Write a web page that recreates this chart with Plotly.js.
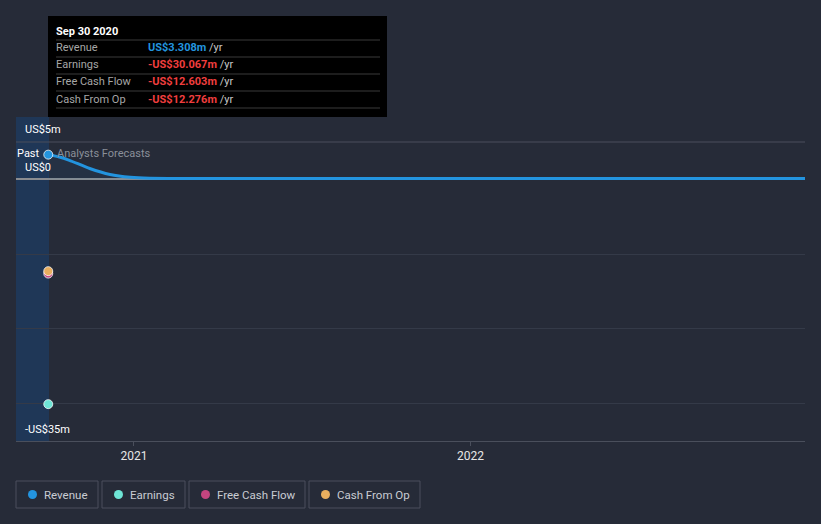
<!DOCTYPE html>
<html><head><meta charset="utf-8">
<script src="https://cdn.plot.ly/plotly-3.0.1.min.js"></script>
<style>html,body{margin:0;padding:0;background:#262b38;}#chart{width:821px;height:524px;}</style>
</head><body><div id="chart"></div>
<script>
// ---- data ----
const pastDate = '2020-09-30';
const revenueDates = ['2020-09-30','2020-10-12','2020-10-23','2020-11-14','2020-12-06','2020-12-28','2021-01-18','2021-03-01','2021-12-31','2022-12-31'];
const revenueValues = [3.308, 3.0, 2.55, 1.45, 0.65, 0.27, 0.14, 0.12, 0.12, 0.12];
const earningsValue = [-30.067];
const fcfValue = [-12.603];
const cfoValue = [-12.276];
const seriesNames = ['Revenue','Earnings','Free Cash Flow','Cash From Op'];
const seriesColors = ['#2394df','#6ee5d6','#c4457f','#e8ae5f'];
const tooltipValues = ['US$3.308m','-US$30.067m','-US$12.603m','-US$12.276m'];
const yTickLabels = ['US$5m','US$0','-US$35m'];

// ---- geometry helpers (pixel -> paper) ----
const W = 821, H = 524, L = 16, R = 805, T = 142, B = 441;
const px = x => (x - L) / (R - L);
const py = y => (B - y) / (B - T);

const font = 'Roboto, "Open Sans", sans-serif';
const mk = (c) => ({size: 9, color: c, line: {color: 'rgba(255,255,255,0.75)', width: 1}});

const traces = [
  {x: revenueDates, y: revenueValues, type: 'scatter', mode: 'lines',
   line: {color: seriesColors[0], width: 3, shape: 'spline', smoothing: 0.6},
   fill: 'tozeroy', fillcolor: 'rgba(35,148,223,0.07)', hoverinfo: 'skip'},
  {x: [pastDate], y: [revenueValues[0]], type: 'scatter', mode: 'markers', marker: mk(seriesColors[0])},
  {x: [pastDate], y: earningsValue, type: 'scatter', mode: 'markers', marker: mk(seriesColors[1])},
  {x: [pastDate], y: fcfValue, type: 'scatter', mode: 'markers', marker: mk(seriesColors[2])},
  {x: [pastDate], y: cfoValue, type: 'scatter', mode: 'markers', marker: mk(seriesColors[3])}
];

const shapes = [
  {type: 'rect', xref: 'paper', yref: 'paper', x0: px(16), x1: px(49), y0: 0, y1: py(117),
   fillcolor: '#1f3757', line: {width: 0}, layer: 'below'},
  {type: 'line', xref: 'paper', yref: 'paper', x0: 0, x1: 1, y0: 1, y1: 1, line: {color: '#4a4f5c', width: 1}, layer: 'below'},
  {type: 'rect', xref: 'paper', yref: 'paper', x0: px(48), x1: px(387), y0: py(16), y1: py(117),
   fillcolor: '#000000', line: {width: 0}}
];
const annotations = [];
const sepY = [40, 57, 74, 91, 108];
sepY.forEach(y => shapes.push({type: 'line', xref: 'paper', yref: 'paper', x0: px(56), x1: px(380), y0: py(y), y1: py(y),
  line: {color: '#3a3a3a', width: 1}}));
annotations.push({xref: 'paper', yref: 'paper', x: px(54), y: py(31), xanchor: 'left', yanchor: 'middle', showarrow: false,
  text: '<b>Sep 30 2020</b>', font: {family: font, size: 11, color: '#ffffff'}});
const rowY = [47, 65, 82, 99];
seriesNames.forEach((n, i) => {
  annotations.push({xref: 'paper', yref: 'paper', x: px(54), y: py(rowY[i]), xanchor: 'left', yanchor: 'middle', showarrow: false,
    text: n, font: {family: font, size: 11, color: '#a6a6a6'}});
  annotations.push({xref: 'paper', yref: 'paper', x: px(146), y: py(rowY[i]), xanchor: 'left', yanchor: 'middle', showarrow: false,
    text: '<span style="color:' + (i === 0 ? '#2394df' : '#f03e3e') + '"><b>' + tooltipValues[i] + '</b></span> /yr',
    font: {family: font, size: 11, color: '#c8c8c8'}});
});
[[yTickLabels[0], 129], [yTickLabels[1], 167], [yTickLabels[2], 429]].forEach(([t, y]) => {
  annotations.push({xref: 'paper', yref: 'paper', x: px(23), y: py(y), xanchor: 'left', yanchor: 'middle', showarrow: false,
    text: t, font: {family: font, size: 11, color: '#ffffff'}});
});
annotations.push({xref: 'paper', yref: 'paper', x: px(42), y: py(153), xanchor: 'right', yanchor: 'middle', showarrow: false,
  text: 'Past', font: {family: font, size: 11, color: '#ffffff'}});
annotations.push({xref: 'paper', yref: 'paper', x: px(55), y: py(153), xanchor: 'left', yanchor: 'middle', showarrow: false,
  text: 'Analysts Forecasts', font: {family: font, size: 11, color: '#8a8f99'}});
const legBoxes = [[16, 98], [102, 185], [189, 305], [309, 420]];
legBoxes.forEach(([x0, x1], i) => {
  shapes.push({type: 'rect', xref: 'paper', yref: 'paper', x0: px(x0), x1: px(x1), y0: py(508), y1: py(481),
    fillcolor: 'rgba(0,0,0,0)', line: {color: '#4a4f5c', width: 1}});
  shapes.push({type: 'circle', xref: 'paper', yref: 'paper', x0: px(x0 + 12), x1: px(x0 + 21), y0: py(499), y1: py(490),
    fillcolor: seriesColors[i], line: {width: 0}});
  annotations.push({xref: 'paper', yref: 'paper', x: px(x0 + 26), y: py(494.5), xanchor: 'left', yanchor: 'middle', showarrow: false,
    text: seriesNames[i], font: {family: font, size: 11.5, color: '#c9ccd3'}});
});

const layout = {
  width: W, height: H, margin: {l: L, r: W - R, t: T, b: H - B},
  paper_bgcolor: '#262b38', plot_bgcolor: 'rgba(0,0,0,0)', showlegend: false,
  font: {family: font, color: '#ffffff'},
  xaxis: {type: 'date', range: ['2020-08-26', '2022-12-30'], tickvals: ['2021-01-01', '2022-01-01'], ticktext: ['2021', '2022'],
    showgrid: false, showline: true, linecolor: '#4a4f5c', linewidth: 1, ticks: 'outside', ticklen: 4, tickcolor: '#4a4f5c',
    tickfont: {family: font, size: 12, color: '#e6e6e6'}, zeroline: false, fixedrange: true},
  yaxis: {range: [-35, 5], tickvals: [-30, -20, -10, 0], showticklabels: false, showgrid: true, gridcolor: '#343a48', gridwidth: 1,
    zeroline: true, zerolinecolor: '#8a8c90', zerolinewidth: 2, fixedrange: true},
  shapes: shapes, annotations: annotations, hovermode: false
};
Plotly.newPlot('chart', traces, layout, {displayModeBar: false, staticPlot: true});
</script></body></html>
